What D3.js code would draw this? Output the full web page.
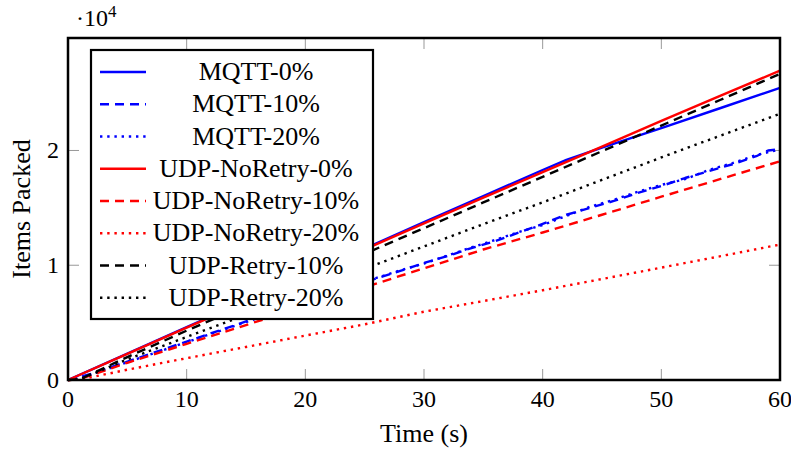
<!DOCTYPE html>
<html>
<head>
<meta charset="utf-8">
<script src="https://cdn.jsdelivr.net/npm/d3@7.9.0/dist/d3.min.js"></script>
<style>
  body { margin: 0; background: #fff; }
</style>
</head>
<body>
<div id="viz"></div>
<script>
// series: [time (s), items packed]
const mqtt0 = [[0,0],[5,2300],[10,4600],[15,6900],[20,9180],[25,11450],[30,13750],[35,16030],[40,18300],[42,19180],[45,20250],[50,21950],[55,23700],[60,25450]];
const mqtt10 = [[0,0],[2,550],[4,1250],[6,1950],[8,2650],[10,3350],[12,4050],[14,4750],[16,5450],[18,6100],[20,6800],[22,7450],[24,8150],[26,8850],[28,9500],[30,10200],[32,10800],[34,11500],[36,12100],[38,12850],[40,13600],[42,14400],[44,15000],[46,15600],[48,16300],[50,16900],[52,17600],[54,18200],[56,18800],[58,19500],[59,20000],[60,20100]];
const mqtt20 = [[0,0],[2,500],[4,1200],[6,1900],[8,2600],[10,3300],[12,4000],[14,4700],[16,5400],[18,6150],[20,6850],[22,7500],[24,8200],[26,8900],[28,9550],[30,10150],[32,10850],[34,11550],[36,12200],[38,12900],[40,13500],[42,14300],[44,15100],[46,15700],[48,16400],[50,17000],[52,17500],[54,18300],[56,18900],[58,19600],[60,20100]];
const udpNo0 = [[0,0],[5,2280],[10,4560],[15,6830],[20,9110],[25,11390],[30,13650],[35,15890],[40,18120],[45,20340],[50,22570],[55,24770],[60,26960]];
const udpNo10 = [[0,0],[1,80],[5,1500],[10,3150],[15,4790],[20,6440],[25,8080],[30,9730],[35,11370],[40,12850],[45,14400],[50,15970],[55,17520],[60,19050]];
const udpNo20 = [[0,0],[1,30],[5,900],[10,1900],[15,2880],[20,3870],[25,4850],[30,5950],[35,6880],[40,7820],[45,8800],[50,9790],[55,10790],[60,11800]];
const udpRe10 = [[0,0],[1,60],[5,2000],[10,4300],[15,6530],[20,8760],[25,11000],[30,13230],[35,15470],[40,17700],[45,19940],[50,22170],[55,24420],[60,26670]];
const udpRe20 = [[0,0],[1,50],[5,1800],[10,3750],[15,5680],[20,7620],[25,9690],[30,11640],[35,13580],[40,15480],[45,17440],[50,19390],[55,21300],[60,23200]];

const seriesNames = ["MQTT-0%", "MQTT-10%", "MQTT-20%", "UDP-NoRetry-0%", "UDP-NoRetry-10%", "UDP-NoRetry-20%", "UDP-Retry-10%", "UDP-Retry-20%"];
const seriesData = [mqtt0, mqtt10, mqtt20, udpNo0, udpNo10, udpNo20, udpRe10, udpRe20];
const xTicks = [0, 10, 20, 30, 40, 50, 60];
const yTicks = [0, 10000, 20000];

const colors = ["#0000ff", "#0000ff", "#0000ff", "#ff0000", "#ff0000", "#ff0000", "#000000", "#000000"];
const dashes = [null, "9,6", "2.4,4.8", null, "9,6", "2.4,4.8", "9,6", "2.4,4.8"];

const width = 791, height = 450;
const margin = { top: 38, right: 11, bottom: 70, left: 68 };
const serif = "'Liberation Serif', 'DejaVu Serif', serif";

const svg = d3.select("#viz").append("svg")
  .attr("width", width)
  .attr("height", height)
  .attr("font-family", serif);

const x = d3.scaleLinear().domain([0, 60]).range([margin.left, width - margin.right]);
const y = d3.scaleLinear().domain([0, 29800]).range([height - margin.bottom, margin.top]);

// ticks (inside, mirrored)
const tickLen = 11;
const tickG = svg.append("g").attr("stroke", "#999").attr("stroke-width", 1);
xTicks.forEach(t => {
  tickG.append("line").attr("x1", x(t)).attr("x2", x(t)).attr("y1", y(0)).attr("y2", y(0) - tickLen);
  tickG.append("line").attr("x1", x(t)).attr("x2", x(t)).attr("y1", margin.top).attr("y2", margin.top + tickLen);
});
yTicks.forEach(v => {
  tickG.append("line").attr("x1", x(0)).attr("x2", x(0) + tickLen).attr("y1", y(v)).attr("y2", y(v));
  tickG.append("line").attr("x1", x(60)).attr("x2", x(60) - tickLen).attr("y1", y(v)).attr("y2", y(v));
});

// lines
const line = d3.line().x(d => x(d[0])).y(d => y(d[1]));
const plot = svg.append("g");
seriesData.forEach((data, i) => {
  plot.append("path")
    .datum(data)
    .attr("d", line)
    .attr("fill", "none")
    .attr("stroke", colors[i])
    .attr("stroke-width", 2.4)
    .attr("stroke-dasharray", dashes[i])
    .attr("stroke-linejoin", "round");
});

// frame
svg.append("rect")
  .attr("x", x(0)).attr("y", y(29800))
  .attr("width", x(60) - x(0)).attr("height", y(0) - y(29800))
  .attr("fill", "none").attr("stroke", "#000").attr("stroke-width", 2.5);

// tick labels
svg.append("g").selectAll("text")
  .data(xTicks).join("text")
  .attr("x", d => x(d)).attr("y", 407)
  .attr("text-anchor", "middle")
  .attr("font-family", serif)
  .attr("font-size", 24)
  .text(d => d);

svg.append("g").selectAll("text")
  .data(yTicks).join("text")
  .attr("x", 59).attr("y", d => y(d) + 8)
  .attr("text-anchor", "end")
  .attr("font-family", serif)
  .attr("font-size", 24)
  .text(d => d / 10000);

// scale marker
const sc = svg.append("text").attr("x", 76).attr("y", 26)
  .attr("font-family", serif).attr("font-size", 24);
sc.append("tspan").text("·10");
sc.append("tspan").attr("dy", -9).attr("font-size", 17).text("4");

// axis labels
svg.append("text")
  .attr("x", (x(0) + x(60)) / 2).attr("y", 442)
  .attr("text-anchor", "middle")
  .attr("font-family", serif)
  .attr("font-size", 26)
  .text("Time (s)");

svg.append("text")
  .attr("transform", `translate(30,${(y(0) + y(29800)) / 2}) rotate(-90)`)
  .attr("text-anchor", "middle")
  .attr("font-family", serif)
  .attr("font-size", 26)
  .text("Items Packed");

// legend
const legend = svg.append("g");
legend.append("rect")
  .attr("x", 91).attr("y", 50).attr("width", 282).attr("height", 269)
  .attr("fill", "#fff").attr("stroke", "#000").attr("stroke-width", 2.2);

seriesNames.forEach((name, i) => {
  const ly = 72 + i * 32.25;
  legend.append("line")
    .attr("x1", 100).attr("x2", 146).attr("y1", ly).attr("y2", ly)
    .attr("stroke", colors[i]).attr("stroke-width", 2.4)
    .attr("stroke-dasharray", dashes[i]);
  legend.append("text")
    .attr("x", 256).attr("y", ly + 8)
    .attr("text-anchor", "middle")
    .attr("font-family", serif)
    .attr("font-size", 26)
    .text(name);
});
</script>
</body>
</html>
